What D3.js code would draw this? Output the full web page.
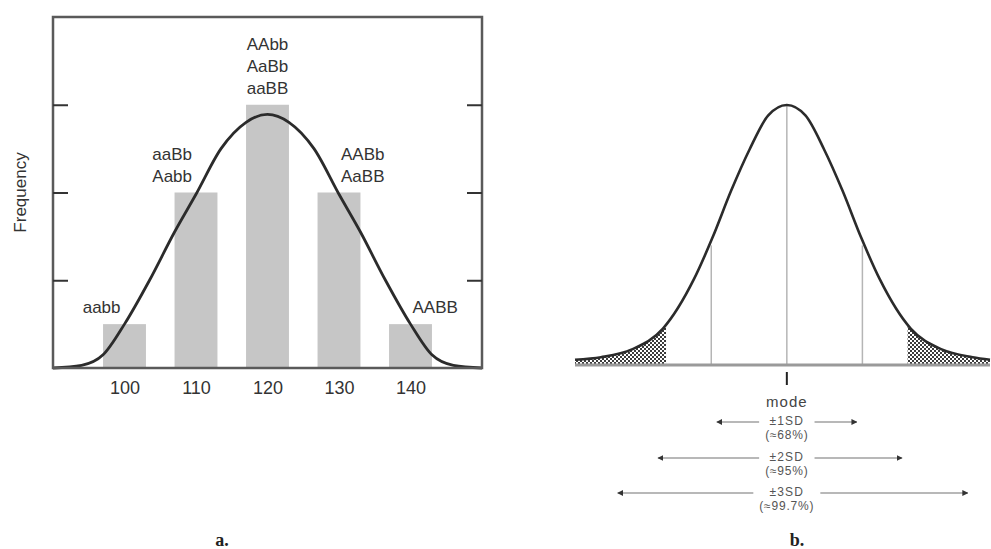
<!DOCTYPE html>
<html>
<head>
<meta charset="utf-8">
<script src="https://cdn.jsdelivr.net/npm/d3@7"></script>
<style>
  body { margin: 0; background: #fff; }
  svg { display: block; }
</style>
</head>
<body>
<svg width="991" height="549"></svg>
<script>
// panel a: phenotype classes, bar heights and the genotypes above each bar
const classes = [100, 110, 120, 130, 140];
const freq = [0.5, 2, 3, 2, 0.5];
const genotypes = [
    ['aabb'],
    ['aaBb', 'Aabb'],
    ['AAbb', 'AaBb', 'aaBB'],
    ['AABb', 'AaBB'],
    ['AABB']
];
const yTicks = [1, 2, 3];

// fitted curve over the bars
const curveX = [90, 94, 97, 100, 103.5, 107, 110, 113.5, 117, 120, 123, 126.5, 130, 133, 136.5, 140, 143, 146, 150];
const curveY = [0, 0.03, 0.15, 0.5, 1.0, 1.55, 1.98, 2.5, 2.8, 2.89, 2.8, 2.5, 1.98, 1.55, 1.0, 0.5, 0.15, 0.03, 0];

// panel b: normal curve in SD units (relative height)
const normZ = [-3.42, -3, -2.5, -2, -1.5, -1.2, -0.9, -0.6, -0.3, 0, 0.3, 0.6, 0.9, 1.2, 1.5, 2, 2.5, 3, 3.28];
const normH = [0.02, 0.03, 0.06, 0.14, 0.33, 0.49, 0.67, 0.83, 0.96, 1, 0.96, 0.83, 0.67, 0.49, 0.33, 0.14, 0.06, 0.03, 0.02];
const guideZ = [-1.22, 0, 1.22];
const guideTop = [0.46, 1, 0.46];
const tailCut = 1.95;
const sdLabels = ['±1SD', '±2SD', '±3SD'];
const sdPct = ['(≈68%)', '(≈95%)', '(≈99.7%)'];
const arrowLo = [-1.13, -2.08, -2.73];
const arrowHi = [1.13, 1.86, 2.92];

const svg = d3.select('svg');
const sans = 'Liberation Sans, Arial, sans-serif';

// ---------- panel a ----------
const x = d3.scaleLinear().domain([90, 150]).range([53, 482]);
const y = d3.scaleLinear().domain([0, 4]).range([368, 17]);

const bars = classes.map((c, i) => ({ c, f: freq[i], g: genotypes[i] }));

svg.append('g').selectAll('rect')
    .data(bars)
    .enter().append('rect')
    .attr('x', d => x(d.c - 3))
    .attr('width', x(6) - x(0))
    .attr('y', d => y(d.f))
    .attr('height', d => y(0) - y(d.f))
    .attr('fill', '#c6c6c6');

const line = d3.line()
    .x((d, i) => x(curveX[i]))
    .y(d => y(d))
    .curve(d3.curveMonotoneX);

svg.append('path')
    .datum(curveY)
    .attr('d', line)
    .attr('fill', 'none')
    .attr('stroke', '#2b2b2b')
    .attr('stroke-width', 2.8);

// frame
svg.append('rect')
    .attr('x', x(90))
    .attr('y', y(4))
    .attr('width', x(150) - x(90))
    .attr('height', y(0) - y(4))
    .attr('fill', 'none')
    .attr('stroke', '#5a5a5a')
    .attr('stroke-width', 2.5);

// inward ticks on both sides
const leftAxis = svg.append('g')
    .attr('transform', `translate(${x(90)},0)`)
    .call(d3.axisRight(y).tickValues(yTicks).tickSize(15).tickFormat(''));
const rightAxis = svg.append('g')
    .attr('transform', `translate(${x(150)},0)`)
    .call(d3.axisLeft(y).tickValues(yTicks).tickSize(15).tickFormat(''));
[leftAxis, rightAxis].forEach(a => {
    a.select('.domain').remove();
    a.selectAll('line').attr('stroke', '#333').attr('stroke-width', 2);
});

const bottomAxis = svg.append('g')
    .attr('transform', `translate(0,${y(0)})`)
    .call(d3.axisBottom(x).tickValues(classes).tickSize(0).tickPadding(13));
bottomAxis.select('.domain').remove();
bottomAxis.selectAll('text')
    .attr('font-family', sans)
    .attr('font-size', '18px')
    .attr('fill', '#333');

svg.append('text')
    .attr('transform', `translate(26,${y(2)}) rotate(-90)`)
    .attr('text-anchor', 'middle')
    .attr('font-family', sans)
    .attr('font-size', '17px')
    .attr('fill', '#333')
    .text('Frequency');

// genotype labels: left of centre for low classes, right for high ones
const lab = svg.append('g').selectAll('g')
    .data(bars)
    .enter().append('g');
lab.selectAll('text')
    .data(d => d.g.map((t, j) => ({ t, j, n: d.g.length, c: d.c, f: d.f })))
    .enter().append('text')
    .attr('x', d => d.c < 120 ? x(d.c) - 4 : d.c > 120 ? x(d.c) + 2 : x(d.c))
    .attr('y', d => y(d.f) - 11 - (d.n - 1 - d.j) * 22)
    .attr('text-anchor', d => d.c < 120 ? 'end' : d.c > 120 ? 'start' : 'middle')
    .attr('font-family', sans)
    .attr('font-size', '17px')
    .attr('fill', '#333')
    .text(d => d.t);

svg.append('text')
    .attr('x', 222)
    .attr('y', 546)
    .attr('text-anchor', 'middle')
    .attr('font-family', 'Liberation Serif, Times New Roman, serif')
    .attr('font-weight', 'bold')
    .attr('font-size', '18px')
    .attr('fill', '#222')
    .text('a.');

// ---------- panel b ----------
const xR = d3.scaleLinear().domain([-3.42, 3.28]).range([575, 990]);
const yR = d3.scaleLinear().domain([0, 1]).range([365, 105]);

const defs = svg.append('defs');
const pat = defs.append('pattern')
    .attr('id', 'hatch')
    .attr('width', 4).attr('height', 4)
    .attr('patternUnits', 'userSpaceOnUse');
pat.append('rect').attr('width', 4).attr('height', 4).attr('fill', '#fff');
pat.append('rect').attr('width', 2).attr('height', 2).attr('fill', '#3c3c3c');
pat.append('rect').attr('x', 2).attr('y', 2).attr('width', 2).attr('height', 2).attr('fill', '#3c3c3c');

const clip = defs.append('clipPath').attr('id', 'tails');
clip.append('rect')
    .attr('x', xR(-3.42)).attr('y', 0)
    .attr('width', xR(-tailCut) - xR(-3.42)).attr('height', 549);
clip.append('rect')
    .attr('x', xR(tailCut)).attr('y', 0)
    .attr('width', xR(3.28) - xR(tailCut)).attr('height', 549);

const area = d3.area()
    .x((d, i) => xR(normZ[i]))
    .y0(yR(0))
    .y1(d => yR(d))
    .curve(d3.curveMonotoneX);

svg.append('path')
    .datum(normH)
    .attr('d', area)
    .attr('fill', 'url(#hatch)')
    .attr('clip-path', 'url(#tails)');

svg.append('g').selectAll('line')
    .data(guideZ)
    .enter().append('line')
    .attr('x1', d => xR(d)).attr('x2', d => xR(d))
    .attr('y1', yR(0))
    .attr('y2', (d, i) => yR(guideTop[i]))
    .attr('stroke', '#b5b5b5')
    .attr('stroke-width', 1.5);

svg.append('line')
    .attr('x1', xR(-3.42)).attr('x2', xR(3.28))
    .attr('y1', yR(0)).attr('y2', yR(0))
    .attr('stroke', '#9a9a9a')
    .attr('stroke-width', 3);

const lineR = d3.line()
    .x((d, i) => xR(normZ[i]))
    .y(d => yR(d))
    .curve(d3.curveMonotoneX);

svg.append('path')
    .datum(normH)
    .attr('d', lineR)
    .attr('fill', 'none')
    .attr('stroke', '#2b2b2b')
    .attr('stroke-width', 2.6);

// mode tick and label
svg.append('line')
    .attr('x1', xR(0)).attr('x2', xR(0))
    .attr('y1', 372).attr('y2', 385)
    .attr('stroke', '#222')
    .attr('stroke-width', 2);

svg.append('text')
    .attr('x', xR(0)).attr('y', 407)
    .attr('text-anchor', 'middle')
    .attr('font-family', sans)
    .attr('font-size', '15px')
    .attr('letter-spacing', '1px')
    .attr('fill', '#444')
    .text('mode');

const ah = defs.append('marker')
    .attr('id', 'ah')
    .attr('viewBox', '0 0 10 10')
    .attr('refX', 9).attr('refY', 5)
    .attr('markerWidth', 4).attr('markerHeight', 4)
    .attr('orient', 'auto-start-reverse');
ah.append('path').attr('d', 'M0,0L10,5L0,10Z').attr('fill', '#333');

const rowY = [422, 458, 493];
sdLabels.forEach((s, i) => {
    const g = svg.append('g');
    const t1 = g.append('text')
        .attr('x', xR(0)).attr('y', rowY[i] + 3)
        .attr('text-anchor', 'middle')
        .attr('font-family', sans)
        .attr('font-size', '12px')
        .attr('letter-spacing', '1.2px')
        .attr('fill', '#555')
        .text(s);
    const t2 = g.append('text')
        .attr('x', xR(0)).attr('y', rowY[i] + 17)
        .attr('text-anchor', 'middle')
        .attr('font-family', sans)
        .attr('font-size', '12px')
        .attr('letter-spacing', '0.8px')
        .attr('fill', '#555')
        .text(sdPct[i]);
    const half = Math.max(t1.node().getComputedTextLength(), t2.node().getComputedTextLength()) / 2 + 6;
    g.append('line')
        .attr('x1', xR(0) - half).attr('x2', xR(arrowLo[i]))
        .attr('y1', rowY[i]).attr('y2', rowY[i])
        .attr('stroke', '#a0a0a0').attr('stroke-width', 1.5)
        .attr('marker-end', 'url(#ah)');
    g.append('line')
        .attr('x1', xR(0) + half).attr('x2', xR(arrowHi[i]))
        .attr('y1', rowY[i]).attr('y2', rowY[i])
        .attr('stroke', '#a0a0a0').attr('stroke-width', 1.5)
        .attr('marker-end', 'url(#ah)');
});

svg.append('text')
    .attr('x', 797)
    .attr('y', 546)
    .attr('text-anchor', 'middle')
    .attr('font-family', 'Liberation Serif, Times New Roman, serif')
    .attr('font-weight', 'bold')
    .attr('font-size', '18px')
    .attr('fill', '#222')
    .text('b.');
</script>
</body>
</html>
